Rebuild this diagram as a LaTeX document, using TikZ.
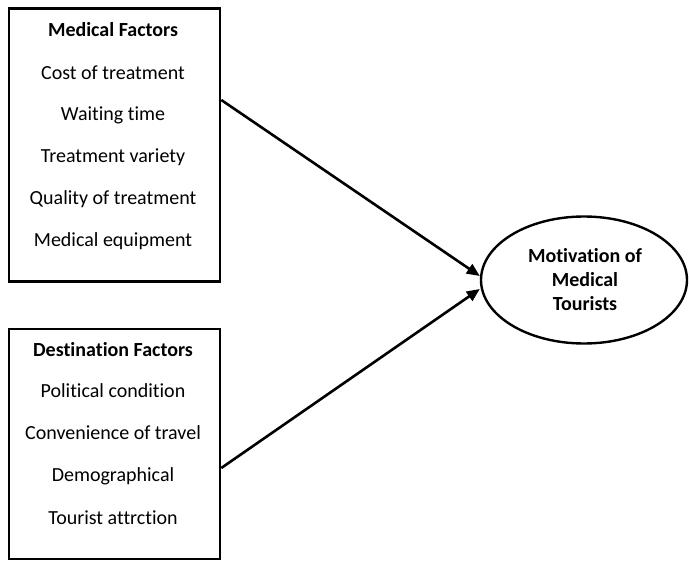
\documentclass[tikz,border=0pt]{standalone}
\usepackage{fontspec}
\setmainfont[Ligatures=NoCommon]{Carlito}
\usetikzlibrary{arrows.meta,shapes.geometric}
\begin{document}
\begin{tikzpicture}[x=1pt,y=-1pt,
  frame/.style={draw,line width=2.6pt,inner sep=0pt},
  item/.style={font=\fontsize{20}{24}\selectfont,inner sep=0pt,anchor=center},
  head/.style={item,font=\fontsize{20}{24}\selectfont\bfseries},
  conn/.style={line width=2.6pt,-{Triangle[length=13pt,width=11pt]}}]
\useasboundingbox (0,0) rectangle (689,562);
% boxes
\node[frame,minimum width=211pt,minimum height=273pt] (box1) at (114.5,145) {};
\node[frame,minimum width=211pt,minimum height=230pt] (box2) at (114.5,444) {};
% ellipse
\node[draw,ellipse,line width=2.4pt,minimum width=206pt,minimum height=127pt,inner sep=0pt] (mot) at (584,280) {};
% texts box 1
\node[head] (h1) at (113,30) {Medical Factors};
\node[item] (a1) at (113,73) {Cost of treatment};
\node[item] (a2) at (113,115) {Waiting time};
\node[item] (a3) at (113,157) {Treatment variety};
\node[item] (a4) at (113,199) {Quality of treatment};
\node[item] (a5) at (113,241) {Medical equipment};
% texts box 2
\node[head] (h2) at (113,350) {Destination Factors};
\node[item] (b1) at (113,391) {Political condition};
\node[item] (b2) at (113,433) {Convenience of travel};
\node[item] (b3) at (113,476) {Demographical};
\node[item] (b4) at (113,518) {Tourist attrction};
% ellipse text
\node[head,align=center,font=\fontsize{20}{24}\selectfont\bfseries] (mt) at (585,280) {Motivation of\\Medical\\Tourists};
% connectors
\coordinate (s1) at (box1.east |- 0,100);
\coordinate (s2) at (box2.east |- 0,468);
\coordinate (t1) at ([yshift=4pt]mot.west);
\coordinate (t2) at ([yshift=-9pt]mot.west);
\draw[conn] (s1) -- (t1);
\draw[conn] (s2) -- (t2);
\end{tikzpicture}
\end{document}
